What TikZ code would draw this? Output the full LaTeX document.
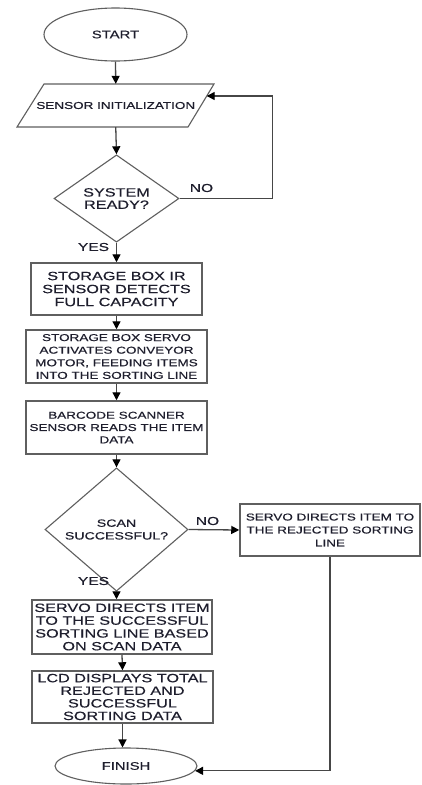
\documentclass[tikz,border=0pt]{standalone}
\usepackage{fontspec}
\setmainfont{Liberation Sans}[FakeStretch=1.35,FakeBold=0.4]
\usetikzlibrary{shapes.geometric,arrows.meta,calc}
\definecolor{txt}{RGB}{30,30,45}
\definecolor{edge}{RGB}{95,95,95}
\definecolor{wire}{RGB}{70,70,70}
\begin{document}
\begin{tikzpicture}[x=1pt,y=-1pt,
  every node/.style={text=txt, align=center, inner sep=0pt},
  boxnode/.style={draw=edge, line width=1.5pt, rectangle},
  decnode/.style={draw=edge, line width=1.1pt, diamond},
  termnode/.style={draw=edge, line width=1.1pt, ellipse},
  flow/.style={draw=wire, line width=1.3pt, -{Triangle[length=8pt,width=8pt,color=black]}},
  lbl/.style={font=\fontsize{11.5}{12}\selectfont}
]
\useasboundingbox (0,0) rectangle (421,785);
\fill[white] (0,0) rectangle (421,785);

% Terminals
\node[termnode, minimum width=143pt, minimum height=53pt, font=\fontsize{11}{12}\selectfont] (start) at (115.5,34.5) {START};

% Parallelogram (input)
\draw[draw=edge, line width=1.1pt] (44,84) -- (214,84) -- (188,127) -- (17,127) -- cycle;
\node[minimum width=170pt, minimum height=43pt, font=\fontsize{10}{12}\selectfont] (init) at (115.75,105.5) {SENSOR INITIALIZATION};
\coordinate (initR) at (206.7,96);

% Decision 1
\node[decnode, minimum width=125pt, minimum height=83pt, font=\fontsize{12}{12.3}\selectfont] (ready) at (116.5,198.5) {SYSTEM\\READY?};

% Process boxes
\node[boxnode, minimum width=171pt, minimum height=52pt, font=\fontsize{12}{13}\selectfont] (box1) at (116.5,289)
  {STORAGE BOX IR\\SENSOR DETECTS\\FULL CAPACITY};
\node[boxnode, minimum width=181pt, minimum height=53pt, font=\fontsize{10}{12.6}\selectfont] (box2) at (116.5,356.5)
  {STORAGE BOX SERVO\\ACTIVATES CONVEYOR\\MOTOR, FEEDING ITEMS\\INTO THE SORTING LINE};
\node[boxnode, minimum width=181pt, minimum height=53pt, font=\fontsize{10}{12.3}\selectfont] (box3) at (116.5,427.5)
  {BARCODE SCANNER\\SENSOR READS THE ITEM\\DATA};

% Decision 2
\node[decnode, minimum width=143pt, minimum height=85pt, font=\fontsize{10.5}{12.7}\selectfont] (scan) at (116.5,529.5)
  {SCAN\\SUCCESSFUL?};

\node[boxnode, minimum width=180pt, minimum height=52pt, font=\fontsize{10}{13}\selectfont] (box4) at (330,530)
  {SERVO DIRECTS ITEM TO\\THE REJECTED SORTING\\LINE};

\node[boxnode, minimum width=180pt, minimum height=54pt, font=\fontsize{12}{12.8}\selectfont] (box5) at (122,627)
  {SERVO DIRECTS ITEM\\TO THE SUCCESSFUL\\SORTING LINE BASED\\ON SCAN DATA};
\node[boxnode, minimum width=181pt, minimum height=52pt, font=\fontsize{12}{12.6}\selectfont] (box6) at (122.5,697)
  {LCD DISPLAYS TOTAL\\REJECTED AND\\SUCCESSFUL\\SORTING DATA};

\node[termnode, minimum width=142pt, minimum height=36pt, font=\fontsize{11}{12}\selectfont] (finish) at (126,766) {FINISH};

% Labels
\node[lbl] (no1) at (201.5,188) {NO};
\node[lbl] (yes1) at (93.5,247) {YES};
\node[lbl] (no2) at (207.5,521) {NO};
\node[lbl] (yes2) at (93.5,581) {YES};

% Connectors
\draw[flow] (start.south) -- (init.north);
\draw[flow] (init.south) -- (ready.north);
\draw[flow] (ready.east) -- ++(93,0) |- (initR);
\draw[flow] (ready.south) -- (box1.north);
\draw[flow] (box1.south) -- (box2.north);
\draw[flow] (box2.south) -- (box3.north);
\draw[flow] (box3.south) -- (scan.north);
\draw[flow] (scan.east) -- (box4.west);
\draw[flow] (scan.south) -- (scan.south |- box5.north);
\draw[flow] (box5.south) -- (box6.north);
\draw[flow] (box6.south) -- (box6.south |- finish.north);
\draw[flow] (box4.south) |- (finish.-4);
\end{tikzpicture}
\end{document}
